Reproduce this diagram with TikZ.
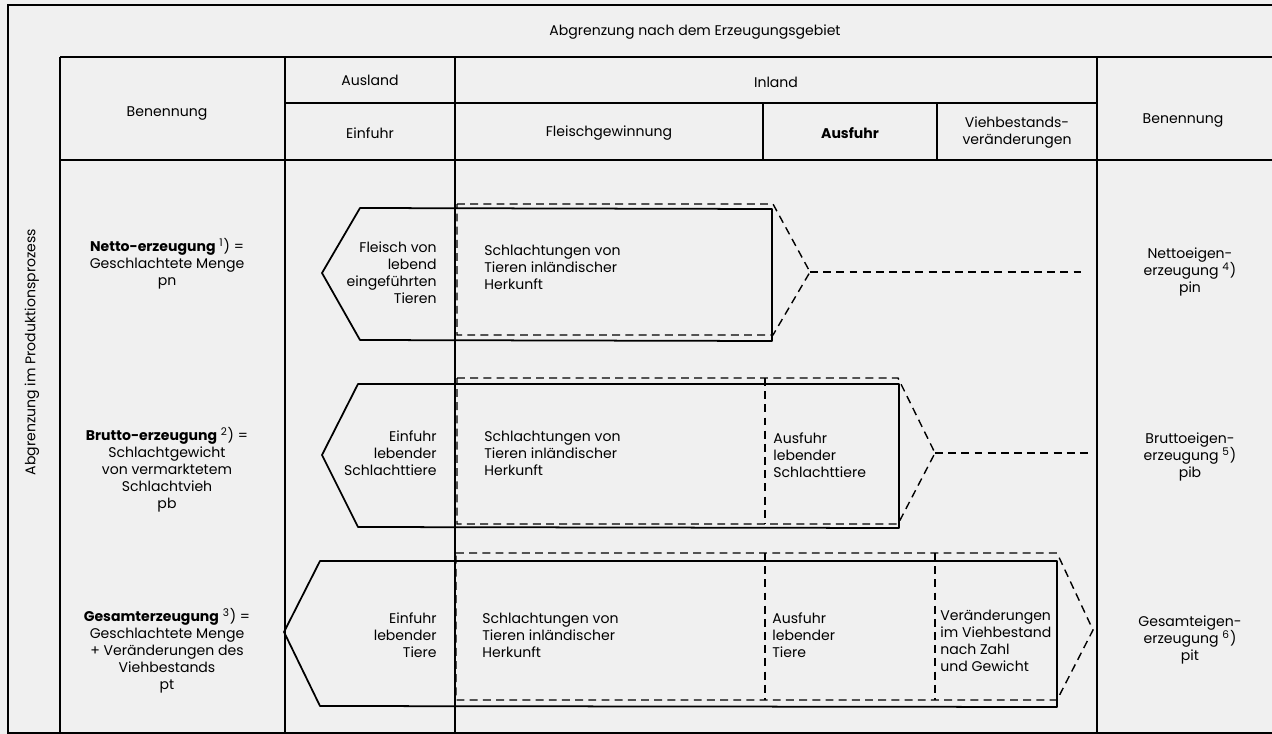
\documentclass[tikz,border=0pt]{standalone}
\usepackage{fontspec}
\setmainfont{Poppins}
\begin{document}
\begin{tikzpicture}[x=0.02cm,y=-0.02cm,
	rule/.style={line width=0.9pt},
	outl/.style={line width=1pt,line join=round},
	dline/.style={line width=0.8pt,dash pattern=on 4.5pt off 3pt},
	txt/.style={font=\fontsize{8}{9.7}\selectfont,inner sep=0pt}]
				\fill[black!6] (0,0) rectangle (1272,734);
				\useasboundingbox (0,0) rectangle (1272,734);
				% table frame
				\coordinate (F1) at (8,5);
				\coordinate (F2) at (8,733);
				\coordinate (F3) at (1272,5);
				\coordinate (F4) at (1272,733);
				\draw[rule] (F3) -- (F1) -- (F2) -- (F4);
				\draw[rule] (60,57) -- (1272,57);
				\draw[rule] (285,103) -- (1097,103);
				\draw[rule] (60,160) -- (1272,160);
				\draw[rule] (60,57) -- (60,733);
				\draw[rule] (285,57) -- (285,733);
				\draw[rule] (455,57) -- (455,733);
				\draw[rule] (1097,57) -- (1097,733);
				\draw[rule] (763,103) -- (763,160);
				\draw[rule] (937,103) -- (937,160);
				% row 1
				\coordinate (A1) at (322,273);
				\coordinate (A2) at (360,208);
				\coordinate (A3) at (772,209);
				\coordinate (A4) at (772,341);
				\coordinate (A5) at (360,340);
				\draw[outl] (A1) -- (A2) -- (A3) -- (A4) -- (A5) -- cycle;
				\coordinate (D1) at (457,204);
				\coordinate (D2) at (773,204);
				\coordinate (D3) at (810,272);
				\coordinate (D4) at (773,335);
				\coordinate (D5) at (457,335);
				\coordinate (E1) at (1085,272);
				\draw[dline] (D1) -- (D2) -- (D3) -- (D4) -- (D5) -- cycle;
				\draw[dline] (D3) -- (E1);
				% row 2
				\coordinate (B1) at (322,455);
				\coordinate (B2) at (358,384);
				\coordinate (B3) at (899,384);
				\coordinate (B4) at (899,528);
				\coordinate (B5) at (358,527);
				\draw[outl] (B1) -- (B2) -- (B3) -- (B4) -- (B5) -- cycle;
				\coordinate (G1) at (457,378);
				\coordinate (G2) at (898,378);
				\coordinate (G3) at (935,453);
				\coordinate (G4) at (898,524);
				\coordinate (G5) at (457,524);
				\coordinate (E2) at (1090,453);
				\draw[dline] (G1) -- (G2) -- (G3) -- (G4) -- (G5) -- cycle;
				\draw[dline] (765,378) -- (765,524);
				\draw[dline] (G3) -- (E2);
				% row 3
				\coordinate (C1) at (284,632);
				\coordinate (C2) at (320,561);
				\coordinate (C3) at (1057,561);
				\coordinate (C4) at (1057,707);
				\coordinate (C5) at (320,706);
				\draw[outl] (C1) -- (C2) -- (C3) -- (C4) -- (C5) -- cycle;
				\coordinate (K1) at (456,553);
				\coordinate (K2) at (1057,553);
				\coordinate (K3) at (1093,630);
				\coordinate (K4) at (1057,700);
				\coordinate (K5) at (456,700);
				\draw[dline] (K1) -- (K2) -- (K3) -- (K4) -- (K5) -- cycle;
				\draw[dline] (765,553) -- (765,700);
				\draw[dline] (935,553) -- (935,700);
				% header
				\node[txt] (titel) at (695,32) {Abgrenzung nach dem Erzeugungsgebiet};
				\node[txt] (benennL) at (167,113) {Benennung};
				\node[txt] (ausland) at (370,80) {Ausland};
				\node[txt] (inland) at (776,82) {Inland};
				\node[txt] (einfuhrK) at (370,133) {Einfuhr};
				\node[txt] (fleischK) at (609,133) {Fleischgewinnung};
				\node[txt,font=\fontsize{8}{9.7}\selectfont\bfseries] (ausfuhrK) at (850,133) {Ausfuhr};
				\node[txt,align=center] (viehK) at (1017,133) {Viehbestands-\\veränderungen};
				\node[txt] (benennR) at (1183,120) {Benennung};
				\node[txt,rotate=90] (prozess) at (32,352) {Abgrenzung im Produktionsprozess};
				% left column
				\node[txt,align=center] (netto) at (167,264) {\textbf{Netto-erzeugung} \textsuperscript{1}) =\\Geschlachtete Menge\\pn};
				\node[txt,align=center] (brutto) at (167,470) {\textbf{Brutto-erzeugung} \textsuperscript{2}) =\\Schlachtgewicht\\von vermarktetem\\Schlachtvieh\\pb};
				\node[txt,align=center] (gesamt) at (167,651) {\textbf{Gesamterzeugung} \textsuperscript{3}) =\\Geschlachtete Menge\\+ Veränderungen des\\Viehbestands\\pt};
				% right column
				\node[txt,align=center] (nettoE) at (1190,272) {Nettoeigen-\\erzeugung \textsuperscript{4})\\pin};
				\node[txt,align=center] (bruttoE) at (1190,457) {Bruttoeigen-\\erzeugung \textsuperscript{5})\\pib};
				\node[txt,align=center] (gesamtE) at (1190,640) {Gesamteigen-\\erzeugung \textsuperscript{6})\\pit};
				% flows
				\node[txt,align=right,anchor=east] (fleischA) at (437,273) {Fleisch von\\lebend\\eingeführten\\Tieren};
				\node[txt,align=left,anchor=west] (schlachtA) at (484,267) {Schlachtungen von\\Tieren inländischer\\Herkunft};
				\node[txt,align=right,anchor=east] (einfuhrB) at (437,453) {Einfuhr\\lebender\\Schlachttiere};
				\node[txt,align=left,anchor=west] (schlachtB) at (484,453) {Schlachtungen von\\Tieren inländischer\\Herkunft};
				\node[txt,align=left,anchor=west] (ausfuhrB) at (773,455) {Ausfuhr\\lebender\\Schlachttiere};
				\node[txt,align=right,anchor=east] (einfuhrC) at (437,635) {Einfuhr\\lebender\\Tiere};
				\node[txt,align=left,anchor=west] (schlachtC) at (482,635) {Schlachtungen von\\Tieren inländischer\\Herkunft};
				\node[txt,align=left,anchor=west] (ausfuhrC) at (772,635) {Ausfuhr\\lebender\\Tiere};
				\node[txt,align=left,anchor=west] (veraendC) at (940,641) {Veränderungen\\im Viehbestand\\nach Zahl\\und Gewicht};
			\end{tikzpicture}
\end{document}
